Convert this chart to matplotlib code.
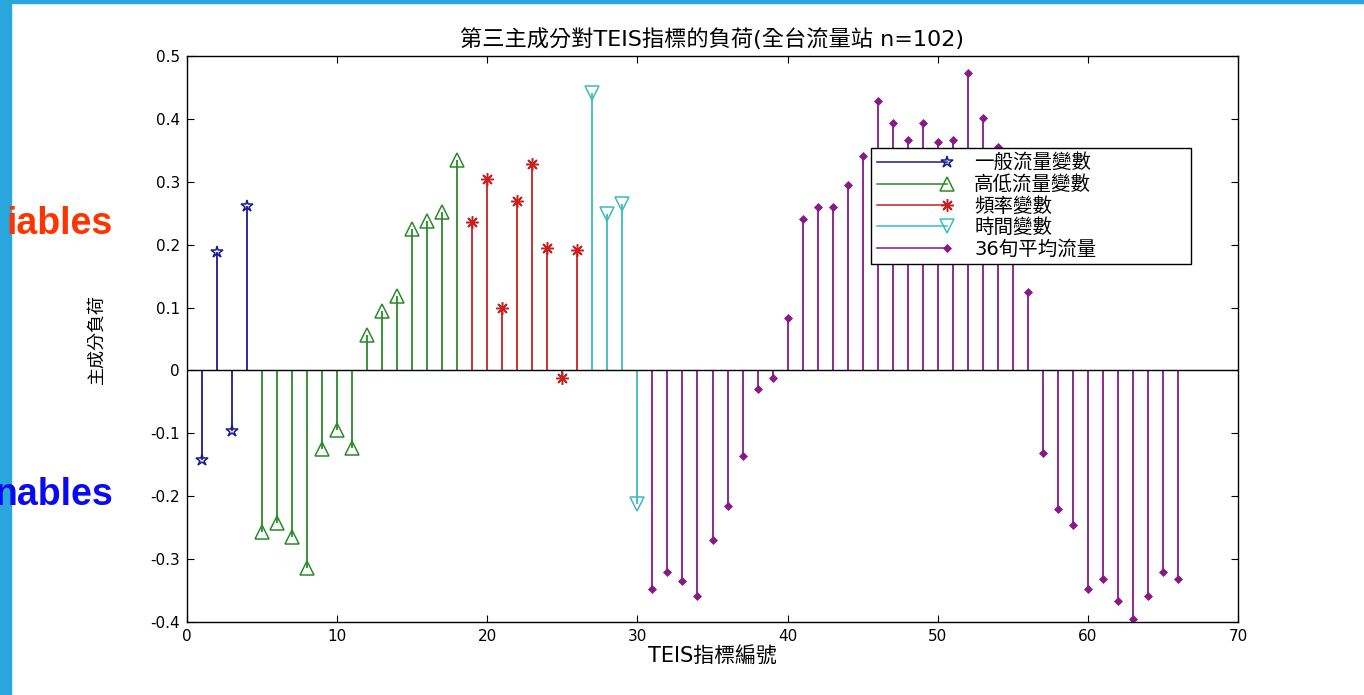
import matplotlib
matplotlib.use("Agg")
from matplotlib import pyplot as plt
from matplotlib.lines import Line2D
from matplotlib.legend_handler import HandlerLine2D
from matplotlib.patches import Rectangle

plt.rcParams['font.family'] = ['DejaVu Sans', 'Noto Sans CJK TC']
plt.rcParams['axes.unicode_minus'] = False

# 데이터
x_general = [1, 2, 3, 4]
y_general = [-0.142, 0.188, -0.096, 0.261]

x_highlow = [5, 6, 7, 8, 9, 10, 11, 12, 13, 14, 15, 16, 17, 18]
y_highlow = [-0.257, -0.242, -0.265, -0.314, -0.125, -0.094, -0.123,
             0.057, 0.094, 0.118, 0.225, 0.237, 0.252, 0.335]

x_freq = [19, 20, 21, 22, 23, 24, 25, 26]
y_freq = [0.236, 0.304, 0.100, 0.269, 0.329, 0.194, -0.012, 0.192]

x_time = [27, 28, 29, 30]
y_time = [0.441, 0.249, 0.265, -0.212]

x_flow = list(range(31, 67))
y_flow = [-0.348, -0.320, -0.335, -0.359, -0.269, -0.216, -0.136, -0.029, -0.012,
          0.084, 0.241, 0.260, 0.260, 0.295, 0.341, 0.428, 0.394, 0.367, 0.394,
          0.363, 0.366, 0.473, 0.402, 0.355, 0.250, 0.125,
          -0.131, -0.221, -0.245, -0.348, -0.332, -0.367, -0.396, -0.358, -0.320, -0.332]

labels = ["一般流量變數", "高低流量變數", "頻率變數", "時間變數", "36旬平均流量"]
xticks = [0, 10, 20, 30, 40, 50, 60, 70]
yticks = [-0.4, -0.3, -0.2, -0.1, 0, 0.1, 0.2, 0.3, 0.4, 0.5]
ytick_labels = ["-0.4", "-0.3", "-0.2", "-0.1", "0", "0.1", "0.2", "0.3", "0.4", "0.5"]

# 범례: 선 오른쪽 끝에 마커 (MATLAB 스타일)
class StemHandler(HandlerLine2D):
    def create_artists(self, legend, orig_handle, xdescent, ydescent, width, height, fontsize, trans):
        arts = super().create_artists(legend, orig_handle, xdescent, ydescent, width, height, fontsize, trans)
        arts[0].set_markevery([2])
        return arts

fig = plt.figure(figsize=(13.64, 6.95), dpi=100)
fig.patches.append(Rectangle((0, 0), 11 / 1364, 1, transform=fig.transFigure, color="#2aa6df", zorder=0))
fig.patches.append(Rectangle((0, 1 - 3 / 695), 1, 3 / 695, transform=fig.transFigure, color="#2aa6df", zorder=0))

ax = fig.add_axes([187 / 1364, 1 - 622 / 695, (1238 - 187) / 1364, (622 - 56) / 695])

series = [
    (x_general, y_general, "#1c1c8a", "*", 9, "none"),
    (x_highlow, y_highlow, "#2a8a2a", "^", 10, "none"),
    (x_freq, y_freq, "#cc2020", (8, 2, 0), 9, "none"),
    (x_time, y_time, "#3cbcbc", "v", 10, "none"),
    (x_flow, y_flow, "#861a86", "D", 3.5, "fill"),
]
handles = []
for xs, ys, c, m, ms, fill in series:
    ax.vlines(xs, 0, ys, color=c, lw=1.3)
    fc = c if fill == "fill" else "none"
    ax.plot(xs, ys, linestyle="none", marker=m, markersize=ms, markerfacecolor=fc,
            markeredgecolor=c, markeredgewidth=1.1)
    handles.append(Line2D([], [], color=c, lw=1.1, marker=m, markersize=ms,
                          markerfacecolor=fc, markeredgecolor=c, markeredgewidth=1.1))

ax.axhline(0, color="k", lw=1.0)
ax.set_xlim(0, 70)
ax.set_ylim(-0.4, 0.5)
ax.set_xticks(xticks)
ax.set_yticks(yticks)
ax.set_yticklabels(ytick_labels)
ax.tick_params(direction="in", top=True, right=True, length=5, labelsize=11, pad=5)
for s in ax.spines.values():
    s.set_linewidth(1.0)

ax.set_title("第三主成分對TEIS指標的負荷(全台流量站 n=102)", fontsize=16, pad=7)
ax.set_xlabel("TEIS指標編號", fontsize=15, labelpad=2)
ax.set_ylabel("主成分負荷", fontsize=13, labelpad=32)

leg = ax.legend(handles, labels, loc="upper left", bbox_to_anchor=(0.651, 0.837, 0.304, 0.0),
                mode="expand", fontsize=14, handlelength=3.6, handletextpad=1.4, labelspacing=0.12,
                borderaxespad=0, borderpad=0.3, fancybox=False, framealpha=1, edgecolor="k",
                handler_map={Line2D: StemHandler()})
leg.get_frame().set_linewidth(1.0)

fig.text(113 / 1364, 1 - 224 / 695, "iables", color="#ff3300", fontsize=27, fontweight="bold",
         family="Liberation Sans", ha="right", va="center")
fig.text(113 / 1364, 1 - 495 / 695, "nables", color="#0a0af0", fontsize=27, fontweight="bold",
         family="Liberation Sans", ha="right", va="center")

plt.savefig("out.png", dpi=100)
